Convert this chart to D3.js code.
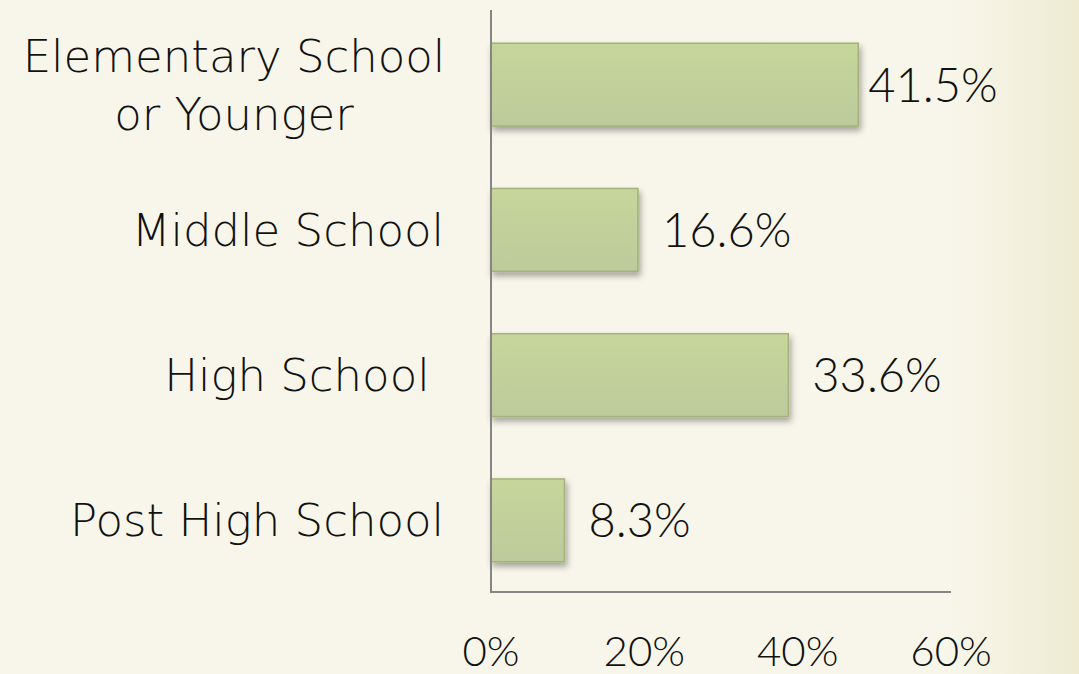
<!DOCTYPE html>
<html>
<head>
<meta charset="utf-8">
<script src="https://cdn.jsdelivr.net/npm/d3@7"></script>
<style>
  html, body { margin: 0; padding: 0; }
  body { width: 1079px; height: 674px; overflow: hidden; }
  text { font-family: "Lato", "DejaVu Sans", sans-serif; font-weight: 300; fill: #111; }
  .cat { font-family: "DejaVu Sans", sans-serif; font-weight: 200; }
</style>
</head>
<body>
<script>
// chart data
var categories = ["Elementary School\nor Younger", "Middle School", "High School ", "Post High School"];
var values = [41.5, 16.6, 33.6, 8.3];
var tickValues = [0, 20, 40, 60];

var width = 1079, height = 674;

var svg = d3.select("body").append("svg")
    .attr("width", width)
    .attr("height", height);

var defs = svg.append("defs");

// background, fades to a warmer tone on the right edge
var bg = defs.append("linearGradient").attr("id", "bg")
    .attr("x1", "0%").attr("x2", "100%").attr("y1", "0%").attr("y2", "0%");
bg.append("stop").attr("offset", "0%").attr("stop-color", "#f8f6ea");
bg.append("stop").attr("offset", "88%").attr("stop-color", "#f8f6ea");
bg.append("stop").attr("offset", "100%").attr("stop-color", "#eeebd2");

var barGrad = defs.append("linearGradient").attr("id", "bar")
    .attr("x1", "0%").attr("x2", "0%").attr("y1", "0%").attr("y2", "100%");
barGrad.append("stop").attr("offset", "0%").attr("stop-color", "#c6d69a");
barGrad.append("stop").attr("offset", "100%").attr("stop-color", "#bdca9c");

var shadow = defs.append("filter").attr("id", "shadow")
    .attr("x", "-10%").attr("y", "-10%").attr("width", "130%").attr("height", "140%");
shadow.append("feDropShadow")
    .attr("dx", 2).attr("dy", 4).attr("stdDeviation", 3)
    .attr("flood-color", "#000").attr("flood-opacity", 0.35);

svg.append("rect").attr("width", width).attr("height", height).attr("fill", "url(#bg)");

var x0 = 491;
// bars and tick labels don't share the same scale in the source picture
var x = d3.scaleLinear().domain([0, 60]).range([x0, 1022]);
var xTick = d3.scaleLinear().domain([0, 60]).range([x0, 951]);

var y = d3.scaleBand()
    .domain(categories)
    .range([12, 593])
    .paddingInner(0.43)
    .paddingOuter(0.215);

// bars
svg.append("g")
  .selectAll("rect")
  .data(values)
  .enter().append("rect")
    .attr("x", x0)
    .attr("y", function(d, i) { return y(categories[i]); })
    .attr("width", function(d) { return x(d) - x0; })
    .attr("height", y.bandwidth())
    .attr("fill", "url(#bar)")
    .attr("stroke", "#a3b27a")
    .attr("stroke-width", 1.5)
    .attr("filter", "url(#shadow)");

// axis lines
svg.append("line")
    .attr("x1", x0).attr("x2", x0)
    .attr("y1", 10).attr("y2", 593)
    .attr("stroke", "#858585").attr("stroke-width", 2);
svg.append("line")
    .attr("x1", x0).attr("x2", xTick(60))
    .attr("y1", 592).attr("y2", 592)
    .attr("stroke", "#858585").attr("stroke-width", 2);

// tick labels
svg.append("g")
  .selectAll("text")
  .data(tickValues)
  .enter().append("text")
    .attr("x", function(d) { return xTick(d); })
    .attr("y", 666)
    .attr("text-anchor", "middle")
    .style("font-size", "42px")
    .text(function(d) { return d + "%"; });

// category labels
var catLabels = svg.append("g")
  .selectAll("text")
  .data(categories)
  .enter().append("text")
    .attr("class", "cat")
    .style("font-size", "45px")
    .style("white-space", "pre")
    .attr("y", function(d) { return y(d) + y.bandwidth() / 2; });

catLabels.each(function(d) {
  var lines = d.split("\n");
  var t = d3.select(this);
  var lh = 58;
  lines.forEach(function(line, i) {
    t.append("tspan")
      .attr("x", lines.length > 1 ? 234 : 444)
      .attr("text-anchor", lines.length > 1 ? "middle" : "end")
      .attr("dy", i === 0 ? (16 - (lines.length - 1) * lh / 2) : lh)
      .text(line);
  });
});

// value labels
svg.append("g")
  .selectAll("text")
  .data(values)
  .enter().append("text")
    .attr("y", function(d, i) { return y(categories[i]) + y.bandwidth() / 2 + 17; })
    .style("font-size", "47px")
    .text(function(d) { return d.toFixed(1) + "%"; })
    .attr("x", function(d) {
      var w = this.getComputedTextLength();
      return Math.max(x(d) + 10, Math.min(x(d) + 24, 992 - w));
    });
</script>
</body>
</html>
